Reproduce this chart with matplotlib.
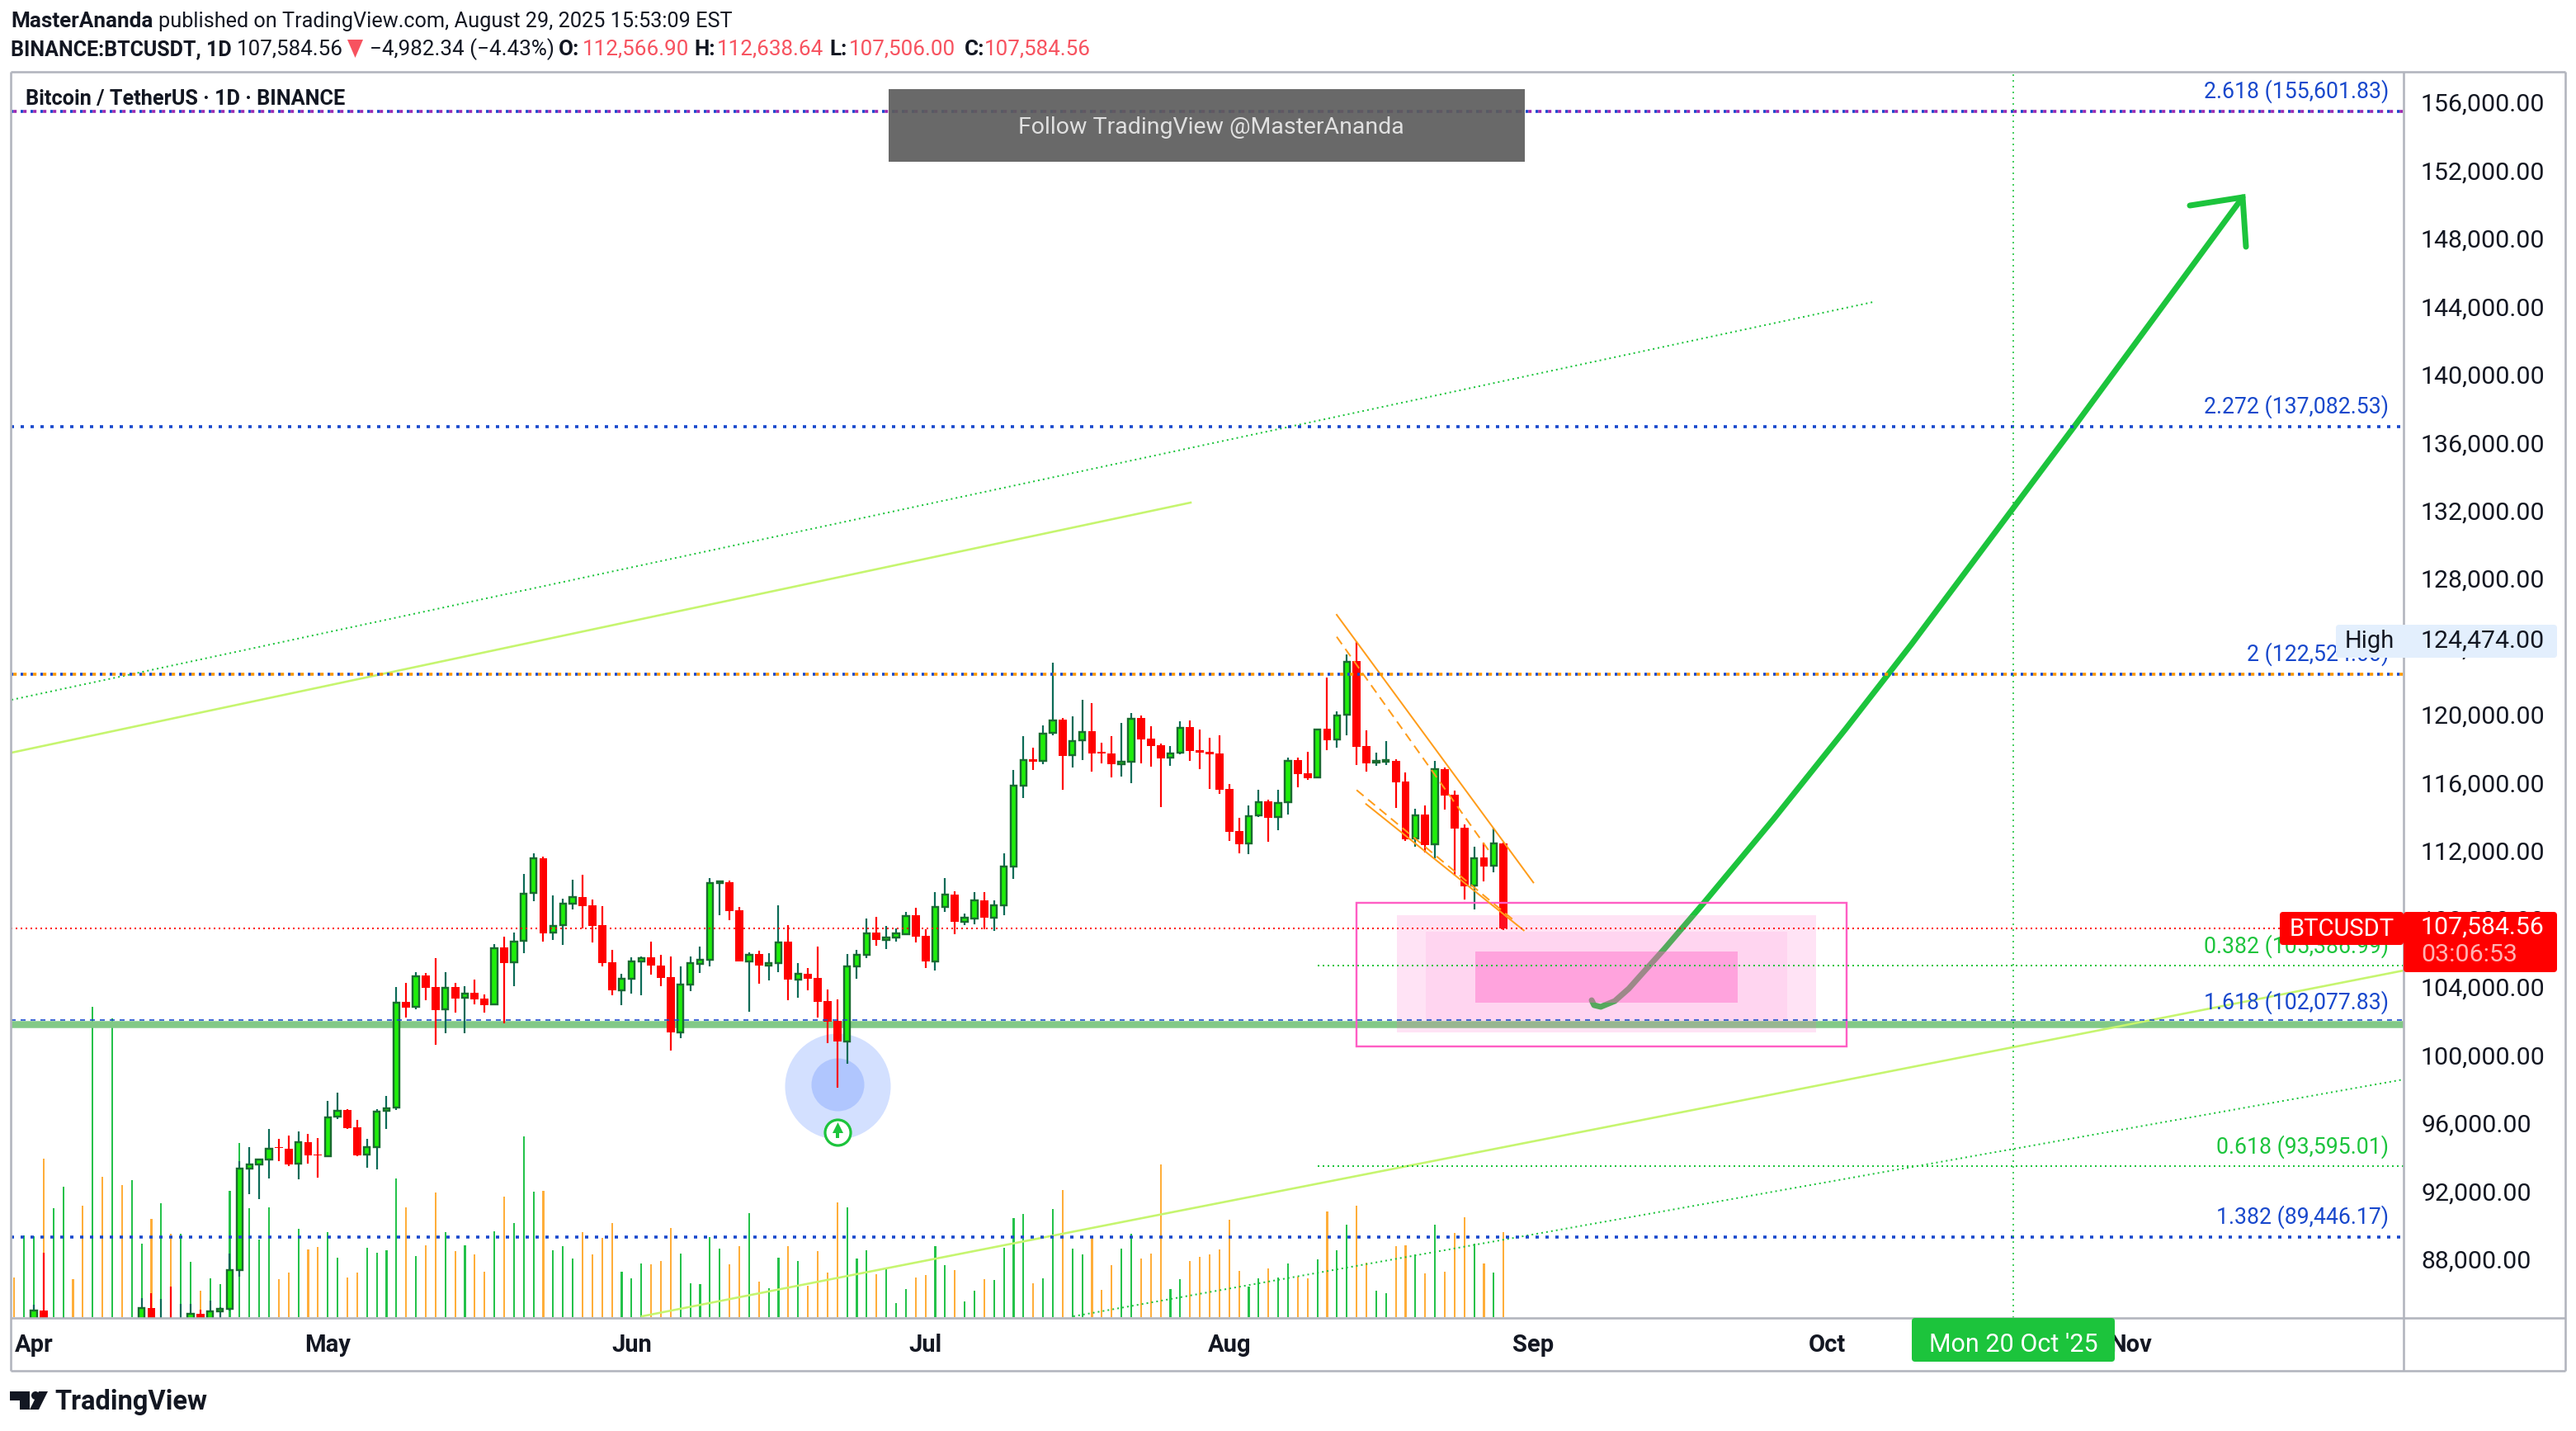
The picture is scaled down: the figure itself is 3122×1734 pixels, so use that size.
import matplotlib
matplotlib.use("Agg")
import matplotlib.pyplot as plt
from matplotlib.patches import Rectangle, FancyBboxPatch, Polygon, Circle
from matplotlib.transforms import ScaledTranslation

plt.rcParams['font.family'] = ['Roboto', 'DejaVu Sans']
plt.rcParams['lines.scale_dashes'] = False

# ---------- data (day index: 0 = 1 Apr 2025) ----------
first_day = -2
opens = [82650,82390,82550,85124,82516,83100,83843,83504,78214,79218,76271,82574,79625,83404,85276,83684,84539,83659,84033,84933,84450,85086,85203,
87522,93448,93698,93985,94714,94638,93755,95021,94312,94177,96517,96901,95884,94273,94753,96843,97054,103269,102962,104822,104132,102808,104132,
103499,103806,103460,103115,106472,105589,106836,109656,111708,107335,107757,109023,109425,108946,107776,105589,103959,104611,105628,105877,105398,
104726,101485,104266,105513,105724,110269,110288,108658,105666,106069,105417,105570,106798,104554,104918,104669,103307,102156,100948,105340,106050,
107335,106913,107028,107258,108351,107143,105666,108831,109579,107987,108179,109234,108236,108927,111206,115992,117529,117415,119065,119857,117755,
118628,119178,117965,117868,117254,117367,119954,118741,118353,117609,117901,119420,118062,117965,117868,115782,113308,112564,114214,115055,114117,
114990,117480,116704,116445,119307,118676,120131,123301,118304,117350,117399,117431,116218,112855,114278,112515,116946,115442,113502,110090,111755,
111254,112566.90]
highs = [83500,83940,85487,88520,83998,84720,84234,83784,81243,80867,83588,82700,84300,85856,86140,85795,86525,85509,85509,85163,85700,85320,88462,
93889,94733,94043,95788,95213,95405,95654,95501,95251,97438,97937,96958,96325,95213,96958,97726,104132,104381,105014,104956,105839,105014,104381,
104189,104573,103710,106663,107105,107335,110787,111996,111804,109521,109329,110442,110730,109272,108888,106318,104918,105877,105935,106798,106031,
105935,105359,105935,106510,110538,110384,110404,108850,106184,106280,106126,108946,107776,105551,105244,106510,103997,103403,106069,106318,108160,
108255,107718,107584,108543,108792,107527,109713,110538,109771,108447,109713,109713,109234,111996,116882,118887,118208,119518,123204,119954,120051,
121021,120827,118499,118887,119663,120245,120100,119469,118450,118305,119760,119809,119275,118790,118935,116073,114084,114812,115734,115152,115734,
117626,117626,117965,119291,122331,120342,123689,124474,119226,117916,118595,117528,116752,114617,114812,117431,117043,115685,113696,112386,112629,
113502,112638.64]
lows = [81600,81280,82434,82320,81211,81659,82350,77153,74508,76239,74620,78456,78969,82769,83034,83600,83600,83111,83736,84300,84369,83949,85144,
87138,91971,91665,92892,93909,93621,92835,93755,92931,94177,96402,95788,94196,93506,93410,95788,96920,102348,102827,103365,100737,101427,102636,
101427,103115,102636,103115,102003,104189,106126,109176,106798,106894,106606,108697,107584,106759,105359,103652,103077,103748,103652,104861,104189,
100411,101140,103902,104956,105359,108351,108064,105666,102674,104324,104534,105014,103365,103499,103940,102348,100833,98224,99624,104630,105839,
106568,106376,106798,107201,106759,105244,105110,108543,107239,107776,107833,107546,107431,108351,110495,115249,116898,117238,118935,115734,117043,
117480,116801,117286,116461,116510,116122,117286,117092,114715,117141,117820,117432,116946,115782,115491,112726,111998,111950,114133,112678,113357,
114278,115879,116316,116445,118062,118207,118935,117189,116800,117140,117189,114666,112725,112386,112046,111691,114569,110688,109281,108699,110349,
110882,107506]
closes = [82390,82550,85124,82516,83102,83843,83504,78214,79235,76271,82573,79626,83404,85297,83684,84542,83659,84033,84933,84450,85086,85203,87503,
93448,93698,93985,94657,94676,93736,95002,94254,94254,96479,96862,95846,94254,94753,96824,97016,103230,102943,104784,104113,102789,104113,103480,
103767,103422,103096,106433,105570,106817,109636,111689,107316,107738,109023,109406,108888,107738,105570,103959,104611,105628,105858,105378,104688,
101466,104266,105532,105724,110231,110346,108601,105666,106031,105398,105570,106779,104554,104899,104630,103269,102118,100929,105340,106050,107316,
106894,107028,107277,108332,107105,105647,108831,109579,107968,108198,109214,108217,108927,111209,115992,117496,117383,119049,119825,117739,118612,
119146,117884,117868,117254,117367,119922,118693,118305,117577,117884,119388,118014,117917,117820,115734,113260,112532,114198,115022,114084,114974,
117448,116655,116413,119291,118660,120115,123268,118272,117286,117431,117480,116170,112823,114246,112483,116930,115394,113453,110058,111723,111222,
112564,107584.56]
volumes = [48,99,98,192,132,158,46,135,376,170,362,160,166,89,119,138,101,101,67,32,47,40,153,211,132,94,133,46,54,107,82,85,103,72,48,54,84,78,81,168,
133,74,87,151,103,80,87,76,55,104,146,114,219,152,153,81,86,71,103,76,96,114,55,47,65,64,68,108,77,41,40,97,83,64,86,126,43,35,72,86,68,38,80,54,139,
133,71,81,52,60,17,34,48,51,86,63,57,19,32,46,45,84,120,125,41,47,131,154,83,76,96,33,63,83,101,71,77,185,34,46,68,73,76,82,118,56,37,47,59,48,65,49,
47,70,128,81,112,135,66,32,29,86,87,76,53,112,55,102,121,89,65,54,103]

price_ticks = list(range(88000, 160000, 4000))
month_days = [0, 30, 61, 91, 122, 153, 183, 214]
month_names = ['Apr', 'May', 'Jun', 'Jul', 'Aug', 'Sep', 'Oct', 'Nov']

last_price = 107584.56
fib_blue = [(2.618, 155601.83), (2.272, 137082.53), (2, 122524.00), (1.618, 102077.83), (1.382, 89446.17)]
fib_green = [(0.382, 105386.99), (0.618, 93595.01)]
support_band = 101958
fib_green_start = 131
marked_day = 202

solid_up = ([-2.27, 118.06], [117915, 132611])
solid_low = ([62.06, 241.85], [84788, 105110])
dotted_up = ([-2.27, 187.7], [121019, 144396])
dotted_low = ([106.1, 241.85], [84788, 98708])
chan_top = ([132.97, 153.04], [126017, 110284])
chan_bot = ([135.97, 152.06], [114892, 107470])
chan_dash_top = ([132.97, 148.55], [124724, 112111])
chan_dash_bot = ([135.0, 151.2], [115717, 107988])

arrow_days = [158.99, 159.24, 159.92, 161.35, 162.78, 164.13, 166.4, 170.44, 177.52, 184.93, 191.67, 208.17, 225.43]
arrow_prices = [103365, 103073, 102977, 103316, 104044, 104917, 106372, 109088, 113986, 119321, 124316, 137024, 150555]
arrow_head_days = [220.04, 225.43, 225.77]
arrow_head_prices = [150070, 150555, 147645]

box_outer = (134.97, 185.04, 100648, 109088)
box_zones = [(139.1, 181.9, 101487, 108360, 0.17), (142.06, 178.95, 102152, 107390, 0.10), (147.1, 173.9, 103219, 106226, 0.42)]

# ---------- colours ----------
C_UP, C_UP_EDGE, C_UP_WICK = '#1fee0b', '#1a6b30', '#0b6b57'
C_DOWN = '#ff0000'
V_UP, V_DOWN = '#24c24a', '#ffae3a'
BLUE, GREEN, ORANGE, PINK = '#1848cc', '#1cc43c', '#ff9d1b', '#ff5ec4'
LIME = '#c6f56f'
BORDER = '#b2b5be'
INK = '#131722'

W, H = 3122, 1734
L, R, T, B = 13, 2913, 87, 1597
DAY0, STEP = 41, 11.875
PX = 0.72  # points per pixel at dpi 100

fig = plt.figure(figsize=(W / 100, H / 100), dpi=100, facecolor='white')
rect = [L / W, 1 - B / H, (R - L) / W, (B - T) / H]

# volume pane (height unit = one pixel of the reference)
axv = fig.add_axes(rect, zorder=1)
axv.set_xlim((L - DAY0) / STEP, (R - DAY0) / STEP)
axv.set_ylim(-1, B - T - 1)
axv.axis('off')
vol_x = [first_day + k for k in range(len(volumes))]
vol_c = [V_UP if c >= o else V_DOWN for o, c in zip(opens, closes)]
axv.bar(vol_x, volumes, width=0.17, color=vol_c, linewidth=0)

ax = fig.add_axes(rect, zorder=2)
ax.patch.set_visible(False)
ax.set_xlim((L - DAY0) / STEP, (R - DAY0) / STEP)
ax.set_ylim(last_price - (B - 1125) / 0.020618, last_price + (1125 - T) / 0.020618)
for s in ax.spines.values():
    s.set_visible(False)
ax.yaxis.tick_right()
ax.set_yticks(price_ticks, [f'{p:,.2f}' for p in price_ticks])
ax.set_xticks(month_days, month_names, fontweight='bold')
ax.tick_params(axis='y', length=0, pad=21 * PX, labelsize=21.8, labelcolor=INK)
ax.tick_params(axis='x', length=0, pad=19 * PX, labelsize=21, labelcolor=INK)
lift = ScaledTranslation(0, 3 / 100, fig.dpi_scale_trans)
for t in ax.get_yticklabels():
    t.set_transform(t.get_transform() + lift)

# support band and circle marker under the candles
ax.axhline(support_band, color='#82c986', lw=8.5 * PX, zorder=1, solid_capstyle='butt')
ax.scatter([82], [98320], s=(128 * PX) ** 2, color='#d3e0ff', linewidth=0, zorder=1.2)
ax.scatter([82], [98417], s=(64 * PX) ** 2, color='#b0c6fe', linewidth=0, zorder=1.3)

# candles
xs = [first_day + k for k in range(len(opens))]
for x, o, h, l, c in zip(xs, opens, highs, lows, closes):
    up = c >= o
    ax.vlines(x, l, h, color=C_UP_WICK if up else C_DOWN, lw=2.2 * PX, zorder=2, capstyle='butt')
    if up:
        ax.bar(x, c - o, bottom=o, width=0.63, color=C_UP, edgecolor=C_UP_EDGE, linewidth=2.4 * PX, zorder=3)
    else:
        ax.bar(x, o - c, bottom=c, width=0.84, color=C_DOWN, linewidth=0, zorder=3)

# trend lines
ax.plot(*solid_up, color=LIME, lw=2.6 * PX, zorder=4)
ax.plot(*solid_low, color=LIME, lw=2.6 * PX, zorder=4)
thin_dots = (0, (2 * PX, 4 * PX))
ax.plot(*dotted_up, color=GREEN, lw=2 * PX, ls=thin_dots, zorder=4, dash_capstyle='butt')
ax.plot(*dotted_low, color=GREEN, lw=2 * PX, ls=thin_dots, zorder=4, dash_capstyle='butt')

# big arrow
ax.plot(arrow_days, arrow_prices, color=GREEN, lw=7 * PX, zorder=4.5, solid_capstyle='round', solid_joinstyle='round')
ax.plot(arrow_head_days, arrow_head_prices, color=GREEN, lw=7 * PX, zorder=4.5, solid_capstyle='round', solid_joinstyle='miter')

# pink zones
for x0, x1, y0, y1, a in box_zones:
    ax.add_patch(Rectangle((x0, y0), x1 - x0, y1 - y0, facecolor=PINK, alpha=a, linewidth=0, zorder=5))
x0, x1, y0, y1 = box_outer
ax.add_patch(Rectangle((x0, y0), x1 - x0, y1 - y0, fill=False, edgecolor=PINK, linewidth=2.4 * PX, zorder=5.2))

# falling channel
for line, ls in ((chan_top, '-'), (chan_bot, '-'), (chan_dash_top, (0, (11 * PX, 7 * PX))), (chan_dash_bot, (0, (11 * PX, 7 * PX)))):
    ax.plot(*line, color=ORANGE, lw=2 * PX, ls=ls, zorder=5.5, dash_capstyle='butt')

# horizontal levels
second = {2.618: '#9c27b0', 2: '#ff9800'}
LBL = 19.2
for ratio, price in fib_blue:
    if ratio == 1.618:
        ax.axhline(price + 100, color=BLUE, lw=1.6 * PX, ls=(0, (6 * PX, 6 * PX)), zorder=6, dash_capstyle='butt')
    elif ratio in second:
        ax.axhline(price, color=BLUE, lw=3.6 * PX, ls=(0, (3.2 * PX, 8.8 * PX)), zorder=6, dash_capstyle='butt')
        ax.axhline(price, color=second[ratio], lw=3.6 * PX, ls=(-3.2 * PX, (4 * PX, 8 * PX)), zorder=6, dash_capstyle='butt')
    else:
        ax.axhline(price, color=BLUE, lw=3.6 * PX, ls=(0, (4 * PX, 8 * PX)), zorder=6, dash_capstyle='butt')
    ax.annotate(f'{ratio} ({price:,.2f})', xy=(1, price), xycoords=('axes fraction', 'data'),
                xytext=(-18 * PX, 24 * PX), textcoords='offset points', ha='right', va='center',
                color=BLUE, fontsize=LBL, zorder=7)
for ratio, price in fib_green:
    ax.plot([fib_green_start, (R - DAY0) / STEP], [price, price], color=GREEN, lw=2 * PX, ls=thin_dots, zorder=6, dash_capstyle='butt')
    ax.annotate(f'{ratio} ({price:,.2f})', xy=(1, price), xycoords=('axes fraction', 'data'),
                xytext=(-18 * PX, 24 * PX), textcoords='offset points', ha='right', va='center',
                color=GREEN, fontsize=LBL, zorder=7)
ax.axhline(last_price, color=C_DOWN, lw=2 * PX, ls=(0, (2 * PX, 4 * PX)), zorder=6, dash_capstyle='butt')
ax.axvline(marked_day, color=GREEN, lw=1.6 * PX, ls=(0, (2 * PX, 5 * PX)), zorder=6, dash_capstyle='butt')

# up icon
ax.scatter([82], [95605], s=(31 * PX) ** 2, facecolor='white', edgecolor=GREEN, linewidth=3.2 * PX, zorder=6.5)
ax.scatter([82], [95880], s=(13 * PX) ** 2, marker='^', color=GREEN, linewidth=0, zorder=6.6)
ax.vlines(82, 95250, 95800, color=GREEN, lw=4 * PX, zorder=6.6)

# ---------- overlay in picture pixels: frame, header, badges ----------
ov = fig.add_axes([0, 0, 1, 1], zorder=10)
ov.set_xlim(0, W)
ov.set_ylim(H, 0)
ov.axis('off')
ov.patch.set_visible(False)

def hline(x0, x1, y):
    ov.plot([x0, x1], [y, y], color=BORDER, lw=2.6 * PX, solid_capstyle='butt')
def vline(x, y0, y1):
    ov.plot([x, x], [y0, y1], color=BORDER, lw=2.6 * PX, solid_capstyle='butt')
hline(L, 3109, T); hline(L, 3109, B); hline(L, 3109, 1661)
vline(L, T, 1661); vline(R, T, 1661); vline(3109, T, 1661)

def badge(x0, x1, y0, y1, color, rounding=4):
    ov.add_patch(FancyBboxPatch((x0 + rounding, y0 + rounding), x1 - x0 - 2 * rounding, y1 - y0 - 2 * rounding,
                                boxstyle=f'round,pad={rounding},rounding_size={rounding}', facecolor=color, linewidth=0, zorder=3))
def label(x, y, s, size=18.2, color=INK, weight='normal', ha='left'):
    ov.text(x, y, s, fontsize=size, color=color, fontweight=weight, ha=ha, va='center', zorder=4)

# banner
ov.add_patch(Rectangle((1077, 108), 771, 88, facecolor='#5c5c5c', alpha=0.92, linewidth=0, zorder=3))
label(1468, 155, 'Follow TradingView @MasterAnanda', size=20.5, color='#e0e0e0', ha='center')

# header
RED_TXT = '#f7525f'
NUM = 18.7
label(13, 26, 'MasterAnanda', weight='bold', size=18.8)
label(192, 26, 'published on TradingView.com, August 29, 2025 15:53:09 EST')
label(13, 60, 'BINANCE:BTCUSDT, 1D', weight='bold', size=18)
label(287, 60, '107,584.56', size=NUM)
ov.add_patch(Polygon([[421, 48], [440, 48], [430.5, 70]], facecolor=RED_TXT, linewidth=0))
label(448, 60, '\u22124,982.34 (\u22124.43%)', size=NUM)
label(677, 60, 'O:', weight='bold', size=NUM); label(706, 60, '112,566.90', color=RED_TXT, size=NUM)
label(841, 60, 'H:', weight='bold', size=NUM); label(869, 60, '112,638.64', color=RED_TXT, size=NUM)
label(1005, 60, 'L:', weight='bold', size=NUM); label(1029, 60, '107,506.00', color=RED_TXT, size=NUM)
label(1169, 60, 'C:', weight='bold', size=NUM); label(1193, 60, '107,584.56', color=RED_TXT, size=NUM)
label(31, 120, 'Bitcoin / TetherUS \u00b7 1D \u00b7 BINANCE', weight='bold', size=18.2)

# price badges
badge(2763, 2913, 1105, 1145, C_DOWN)
label(2838, 1126, 'BTCUSDT', size=21, color='white', ha='center')
badge(2913, 3099, 1105, 1178, C_DOWN)
label(2934, 1124, '107,584.56', size=21.8, color='white')
label(2934, 1157, '03:06:53', size=21.8, color='#ffb3b3')
badge(2831, 3099, 757, 797, '#e3effd')
label(2842, 777, 'High', size=21)
label(2934, 777, '124,474.00', size=21.8)
vline(R, 757, 797)
vline(R, 1105, 1178)

# date badge
badge(2317, 2563, 1597, 1650, GREEN)
label(2440, 1629, "Mon 20 Oct '25", size=22, color='white', ha='center')

# logo
ov.add_patch(Polygon([[12, 1686], [36, 1686], [36, 1708], [24, 1708], [24, 1697], [12, 1697]], facecolor=INK, linewidth=0))
ov.add_patch(Circle((43, 1691), 5, facecolor=INK, linewidth=0))
ov.add_patch(Polygon([[47, 1686], [58, 1686], [47, 1708], [36, 1708]], facecolor=INK, linewidth=0))
label(66, 1699, 'TradingView', size=23.5, weight='bold')

fig.savefig('out.png', dpi=100, facecolor='white')
